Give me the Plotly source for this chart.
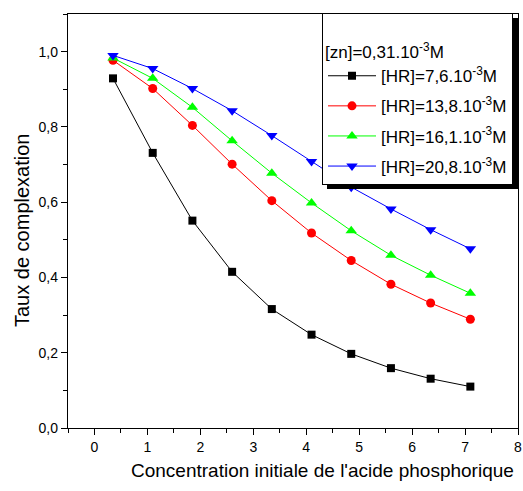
import plotly.graph_objects as go

# Initial phosphoric acid concentration
conc = [0.35, 1.1, 1.85, 2.6, 3.35, 4.1, 4.85, 5.6, 6.35, 7.1]

# Complexation ratio for each extractant concentration
taux_hr_7_6 = [0.929, 0.731, 0.551, 0.415, 0.316, 0.248, 0.197, 0.159, 0.131, 0.110]
taux_hr_13_8 = [0.977, 0.902, 0.804, 0.701, 0.604, 0.518, 0.445, 0.382, 0.332, 0.289]
taux_hr_16_1 = [0.983, 0.929, 0.852, 0.763, 0.677, 0.598, 0.524, 0.459, 0.406, 0.358]
taux_hr_20_8 = [0.990, 0.955, 0.902, 0.843, 0.777, 0.708, 0.640, 0.582, 0.527, 0.476]

series_names = [
    "[HR]=7,6.10<sup>-3</sup>M",
    "[HR]=13,8.10<sup>-3</sup>M",
    "[HR]=16,1.10<sup>-3</sup>M",
    "[HR]=20,8.10<sup>-3</sup>M",
]
series_values = [taux_hr_7_6, taux_hr_13_8, taux_hr_16_1, taux_hr_20_8]
colors = ["#000000", "#FF0000", "#00FF00", "#0000FF"]
symbols = ["square", "circle", "triangle-up", "triangle-down"]
sizes = [8, 9, 10, 10]

x_title = "Concentration initiale de l'acide phosphorique"
y_title = "Taux de complexation"
legend_title = "<br>[zn]=0,31.10<sup>-3</sup>M"

FONT = "Liberation Sans, Arial, sans-serif"

fig = go.Figure()
for i, (name, vals) in enumerate(zip(series_names, series_values)):
    fig.add_trace(go.Scatter(
        x=conc, y=vals, name=name, mode="lines+markers",
        legendgroup=f"g{i}",
        line=dict(color=colors[i], width=1),
        marker=dict(symbol=symbols[i], size=sizes[i], color=colors[i],
                    line=dict(width=0)),
    ))

W, H = 523, 491
ml, mr, mt, mb = 68, 5, 14, 63
pw, ph = W - ml - mr, H - mt - mb

# legend box position in pixels
lg_left, lg_top = 322, 13
lg_right, lg_bottom = 513, 184
shadow = 5

def px_x(v):
    return (v - ml) / pw

def px_y(v):
    return (H - mb - v) / ph

# drop shadow behind the legend box
fig.add_shape(type="rect", xref="paper", yref="paper",
              x0=px_x(lg_left + shadow), x1=px_x(lg_right + shadow),
              y0=px_y(lg_bottom + shadow), y1=px_y(lg_top + shadow),
              fillcolor="black", line=dict(width=0), layer="above")

# axis titles
fig.add_annotation(text=x_title, xref="paper", yref="paper",
                   x=px_x(322), y=px_y(470), xanchor="center", yanchor="middle",
                   showarrow=False, font=dict(family=FONT, size=19, color="black"))
fig.add_annotation(text=y_title, xref="paper", yref="paper",
                   x=px_x(22), y=px_y(231), xanchor="center", yanchor="middle",
                   textangle=-90, showarrow=False,
                   font=dict(family=FONT, size=20, color="black"))

axis_common = dict(
    showline=True, linecolor="black", linewidth=1.3, mirror=True,
    showgrid=False, zeroline=False, ticks="outside", ticklen=6,
    tickwidth=1.3, tickcolor="black",
    tickfont=dict(family=FONT, size=14, color="black"),
    minor=dict(ticks="outside", ticklen=4, tickwidth=1, tickcolor="black"),
)

fig.update_layout(
    width=W, height=H,
    margin=dict(l=ml, r=mr, t=mt, b=mb, autoexpand=False),
    paper_bgcolor="white", plot_bgcolor="white",
    separators=",.",
    font=dict(family=FONT, color="black"),
    xaxis=dict(range=[-0.5, 8], dtick=1, tick0=0, minor_dtick=0.5,
               **axis_common),
    yaxis=dict(range=[0, 1.1], dtick=0.2, tick0=0, tickformat=".1f",
               minor_dtick=0.1, **axis_common),
    legend=dict(
        x=px_x(lg_left), y=px_y(lg_top), xanchor="left", yanchor="top",
        bgcolor="white", bordercolor="black", borderwidth=1,
        font=dict(family=FONT, size=17, color="black"),
        title=dict(text=legend_title, font=dict(family=FONT, size=17)),
        tracegroupgap=5,
        itemwidth=48,
    ),
    showlegend=True,
)

fig.write_html("out.html")
